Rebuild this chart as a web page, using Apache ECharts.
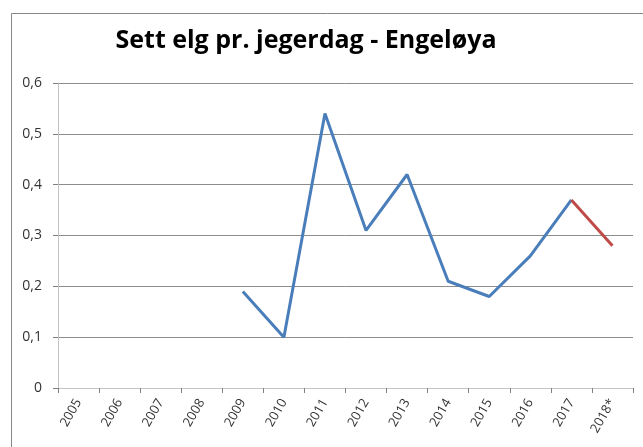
<!DOCTYPE html>
<html>
<head>
<meta charset="utf-8">
<script src="https://cdn.jsdelivr.net/npm/echarts@6/dist/echarts.min.js"></script>
<style>
  html, body { margin: 0; padding: 0; background: #fff; }
  #chart { width: 643px; height: 447px; }
</style>
</head>
<body>
<div id="chart"></div>
<script>
// Seasons on the x axis (2018 is provisional)
var years = ['2005', '2006', '2007', '2008', '2009', '2010', '2011', '2012', '2013', '2014', '2015', '2016', '2017', '2018*'];
// Moose seen per hunter-day, final figures
var seenFinal = [null, null, null, null, 0.19, 0.10, 0.54, 0.31, 0.42, 0.21, 0.18, 0.26, 0.37, null];
// Provisional segment: last final year to the preliminary 2018 value
var seenPrelim = [null, null, null, null, null, null, null, null, null, null, null, null, 0.37, 0.28];
var yTicks = { min: 0, max: 0.6, step: 0.1 };

var chart = echarts.init(document.getElementById('chart'), null, { renderer: 'canvas' });
var labelFont = '"Open Sans", Arial, sans-serif';

chart.setOption({
  animation: false,
  title: {
    text: 'Sett elg pr. jegerdag - Engeløya',
    left: 301, top: 23, textAlign: 'center',
    textStyle: { fontFamily: labelFont, fontWeight: 'bold', fontSize: 25, color: '#000' }
  },
  graphic: [{
    type: 'rect',
    shape: { x: 11.5, y: 13.5, width: 700, height: 500 },
    style: { fill: 'none', stroke: '#888', lineWidth: 1 }
  }],
  grid: { left: 58, right: 10, top: 83, bottom: 59, containLabel: false },
  xAxis: {
    type: 'category',
    data: years,
    boundaryGap: true,
    axisLine: { lineStyle: { color: '#c4c4c4' } },
    axisTick: { show: true, length: 5, alignWithLabel: false, lineStyle: { color: '#808080' } },
    axisLabel: { rotate: 60, fontFamily: labelFont, fontSize: 13, color: '#333', margin: 12, interval: 0 }
  },
  yAxis: {
    type: 'value',
    min: yTicks.min, max: yTicks.max, interval: yTicks.step,
    axisLine: { show: true, lineStyle: { color: '#c4c4c4' } },
    axisTick: { show: true, length: 5, lineStyle: { color: '#808080' } },
    splitLine: { lineStyle: { color: '#8c8c8c', width: 1 } },
    axisLabel: {
      fontFamily: labelFont, fontSize: 14, color: '#333', margin: 16,
      formatter: function (v) { return v === 0 ? '0' : v.toFixed(1).replace('.', ','); }
    }
  },
  series: [{
    type: 'line', data: seenFinal, showSymbol: false, connectNulls: false,
    lineStyle: { color: '#4A7EBB', width: 3 }, itemStyle: { color: '#4A7EBB' }
  }, {
    type: 'line', data: seenPrelim, showSymbol: false, connectNulls: false,
    lineStyle: { color: '#BE4B48', width: 3 }, itemStyle: { color: '#BE4B48' }
  }]
});
</script>
</body>
</html>
